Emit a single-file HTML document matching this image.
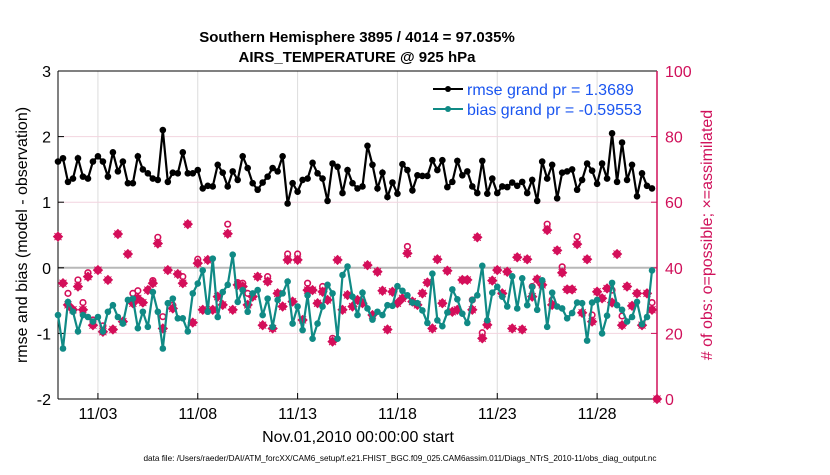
<!DOCTYPE html>
<html><head><meta charset="utf-8"><style>
body{margin:0;background:#fff;width:830px;height:470px;overflow:hidden}
svg{font-family:"Liberation Sans",sans-serif}
</style></head><body>
<svg id="chart" width="830" height="470">
<text x="357" y="42" text-anchor="middle" font-size="15" font-weight="bold">Southern Hemisphere 3895 / 4014 = 97.035%</text>
<text x="357" y="62" text-anchor="middle" font-size="15" font-weight="bold">AIRS_TEMPERATURE @ 925 hPa</text>
<g id="grid"></g>
<g id="axes"></g>
<g id="marks"></g>
<text transform="translate(27,235) rotate(-90)" text-anchor="middle" font-size="16">rmse and bias (model - observation)</text>
<text transform="translate(712,235) rotate(-90)" text-anchor="middle" font-size="16" fill="#d0105a"># of obs: o=possible; ×=assimilated</text>
<text x="358" y="442" text-anchor="middle" font-size="16">Nov.01,2010 00:00:00 start</text>
<text x="400" y="461" text-anchor="middle" font-size="8.2">data file: /Users/raeder/DAI/ATM_forcXX/CAM6_setup/f.e21.FHIST_BGC.f09_025.CAM6assim.011/Diags_NTrS_2010-11/obs_diag_output.nc</text>
<g>
<line x1="433" y1="89" x2="463" y2="89" stroke="#000" stroke-width="2"/><circle cx="448" cy="89" r="3" fill="#000"/>
<text x="467" y="95" font-size="16" fill="#1a55f0">rmse grand pr = 1.3689</text>
<line x1="433" y1="109" x2="463" y2="109" stroke="#108a85" stroke-width="2"/><circle cx="448" cy="109" r="3" fill="#108a85"/>
<text x="467" y="115" font-size="16" fill="#1a55f0">bias grand pr = -0.59553</text>
</g>
</svg>
<script>
const rmse=[1.62,1.67,1.31,1.36,1.67,1.39,1.36,1.62,1.70,1.62,1.39,1.76,1.47,1.62,1.29,1.29,1.70,1.50,1.44,1.36,1.34,2.10,1.31,1.45,1.44,1.76,1.44,1.44,1.49,1.21,
1.25,1.24,1.57,1.45,1.24,1.47,1.34,1.70,1.52,1.29,1.19,1.30,1.39,1.52,1.47,1.70,0.98,1.29,1.16,1.34,1.36,1.60,1.44,1.36,1.02,1.59,1.54,1.14,1.49,1.29,
1.21,1.24,1.86,1.57,1.21,1.45,1.08,1.30,1.13,1.58,1.49,1.18,1.41,1.40,1.40,1.64,1.49,1.64,1.23,1.31,1.63,1.41,1.47,1.24,1.14,1.63,1.13,1.36,1.14,1.24,
1.23,1.30,1.25,1.31,1.14,1.34,1.02,1.62,1.36,1.57,1.06,1.45,1.47,1.50,1.19,1.34,1.59,1.48,1.28,1.59,1.36,2.05,1.31,1.91,1.34,1.57,1.09,1.44,1.25,1.21];
const bias=[-0.72,-1.23,-0.52,-0.67,-0.97,-0.72,-0.75,-0.82,-0.75,-0.97,-0.67,-0.57,-0.75,-0.85,-0.49,-0.47,-0.92,-0.67,-0.90,-0.37,-0.67,-1.23,-0.54,-0.47,-0.77,-0.77,-0.97,-0.39,-0.24,-0.04,
-0.67,0.14,-0.75,-0.37,-0.26,0.20,-0.52,-0.34,-0.67,-0.39,-0.34,-0.72,-0.47,-0.90,-0.49,-0.39,-0.21,-0.85,-0.59,-0.95,-0.42,-1.08,-0.85,-0.59,-0.26,-0.39,-1.08,-0.11,0.02,-0.44,
-0.72,-0.38,-0.62,-0.79,-0.67,-0.72,-0.57,-0.58,-0.28,-0.35,-0.42,-0.53,-0.54,-0.65,-0.84,-0.09,-0.80,-0.89,-0.68,-0.33,-0.48,-0.70,-0.84,-0.49,-0.42,0.03,-0.80,-0.38,-0.29,-0.44,
-0.59,-0.13,-0.62,-0.16,-0.57,-0.29,-0.64,-0.19,-0.90,-0.38,-0.59,-0.62,-0.77,-0.69,-0.53,-0.54,-1.11,-0.53,-0.49,-1.00,-0.73,-0.23,-0.57,-0.64,-0.82,-0.75,-0.52,-0.86,-0.75,-0.04];
const assim=[49.5,35.3,28.7,27.2,34.3,27.2,37.3,22.5,39.3,20.5,36.3,21.2,50.3,23.6,44.2,29.2,30.7,29.4,33.2,35.3,47.4,21.5,39.3,27.6,38.1,35.3,53.3,23.3,41.4,27.2,
42.4,27.2,31.2,28.7,50.4,27.2,34.8,34.3,28.7,31.2,37.3,22.5,35.8,21.5,32.2,28.2,42.4,29.7,42.4,24.1,33.2,33.2,29.2,32.7,30.2,17.5,42.4,27.2,31.7,28.2,
30.2,29.2,40.8,25.6,38.8,33.0,21.2,32.7,29.2,30.7,44.4,29.7,28.7,32.2,35.5,21.5,42.6,29.2,39.1,26.6,27.2,36.3,36.3,27.2,49.3,18.5,22.6,36.1,39.3,32.2,
38.8,21.5,43.2,21.2,42.6,31.2,36.5,34.8,51.5,28.7,45.3,38.5,33.4,33.4,47.2,26.3,42.6,23.6,32.7,30.7,33.7,29.4,44.2,22.5,34.3,28.4,32.2,22.5,32.2,27.2,0];
const possible=[49.5,35.3,32.2,27.2,36.3,29.4,38.5,24.1,39.3,22.3,36.3,21.2,50.3,23.6,44.2,32.2,33.0,29.4,33.2,36.1,49.3,25.1,39.3,28.6,38.1,37.3,53.3,23.3,42.6,27.2,
42.4,27.2,31.2,28.7,53.3,27.2,35.5,35.3,32.2,31.2,37.3,22.5,37.3,21.5,32.2,28.2,44.2,29.7,44.2,24.1,35.3,33.2,29.2,34.3,30.2,18.5,42.4,27.2,31.7,28.2,
30.2,29.2,40.8,25.6,38.8,33.0,21.2,32.7,29.2,30.7,46.5,29.7,28.7,32.2,35.5,21.5,42.6,29.2,39.1,26.6,27.2,36.3,36.3,30.2,49.3,20.2,22.6,36.1,39.3,32.2,
38.8,21.5,43.2,21.2,42.6,34.3,36.5,34.8,53.3,30.2,45.3,40.3,33.4,33.4,49.5,26.3,42.6,25.6,32.7,30.7,33.7,33.2,44.2,25.3,34.3,28.4,32.2,22.5,32.2,29.4,0];
const xTickDays=[2,7,12,17,22,27];
const xTickLabels=["11/03","11/08","11/13","11/18","11/23","11/28"];
const yTicksLeft=[-2,-1,0,1,2,3];
const yTicksRight=[0,20,40,60,80,100];

const L=58,R=657,T=71,B=399,NS="http://www.w3.org/2000/svg";
const xDay=d=>L+d*(R-L)/30;
const xIdx=i=>xDay(i*0.25);
const yL=v=>B-(v+2)*(B-T)/5;
const yR=c=>B-c*(B-T)/100;
function mk(tag,attrs,parent){const e=document.createElementNS(NS,tag);for(const k in attrs)e.setAttribute(k,attrs[k]);parent.appendChild(e);return e;}
const grid=document.getElementById('grid'),axes=document.getElementById('axes'),marks=document.getElementById('marks');
xTickDays.forEach((d,k)=>{
  const gl=mk('line',{x1:xDay(d),x2:xDay(d),y1:T,y2:B,stroke:'#dcdcdc','stroke-width':1},grid);
  
  
  mk('line',{x1:xDay(d),x2:xDay(d),y1:B,y2:B-6,stroke:'#000'},axes);
  const t=mk('text',{x:xDay(d),y:419,'text-anchor':'middle','font-size':16},axes);t.textContent=xTickLabels[k];
  
  
});
yTicksLeft.forEach(v=>{
  if(v>-2&&v<3){const gl=mk('line',{x1:L,x2:R,y1:yL(v),y2:yL(v),stroke:v==0?'#b8b8b8':'#f2d4df','stroke-width':v==0?2:1},grid);
  
  }
  mk('line',{x1:L,x2:L+6,y1:yL(v),y2:yL(v),stroke:'#000'},axes);
  const t=mk('text',{x:51,y:yL(v)+6,'text-anchor':'end','font-size':16},axes);t.textContent=v;
  
  
});
yTicksRight.forEach(c=>{
  mk('line',{x1:R,x2:R-6,y1:yR(c),y2:yR(c),stroke:'#d0105a'},axes);
  const t=mk('text',{x:665,y:yR(c)+6,'font-size':16,fill:'#d0105a'},axes);t.textContent=c;
  
  
});
mk('line',{x1:L,x2:L,y1:T,y2:B,stroke:'#000'},axes);
mk('line',{x1:L,x2:R,y1:B,y2:B,stroke:'#000'},axes);
mk('line',{x1:L,x2:R,y1:T,y2:T,stroke:'#000'},axes);
mk('line',{x1:R,x2:R,y1:T,y2:B,stroke:'#d0105a','stroke-width':1.5},axes);
const MAG='#d40f5a';
assim.forEach((c,i)=>{
  const x=i<assim.length-1?xIdx(i):R, p=possible[i], y=yR(c);
  if(p-c>0.5){const o=mk('circle',{cx:x,cy:yR(p),r:2.8,fill:'none',stroke:MAG,'stroke-width':1.6},marks);
    
    }
  const s=mk('path',{d:`M${x-4.5},${y}L${x},${y-4.5}L${x+4.5},${y}L${x},${y+4.5}Z M${x-3.5},${y-3.5}L${x+3.5},${y+3.5} M${x+3.5},${y-3.5}L${x-3.5},${y+3.5}`,fill:MAG,stroke:MAG,'stroke-width':1},marks);
  
  
});
function series(arr,col,name){
  const pl=mk('polyline',{points:arr.map((v,i)=>xIdx(i)+','+yL(v)).join(' '),fill:'none',stroke:col,'stroke-width':2.2},marks);
  
  
  arr.forEach((v,i)=>{const c=mk('circle',{cx:xIdx(i),cy:yL(v),r:3.3,fill:col},marks);
    
    });
}
series(bias,'#108a85','bias');
series(rmse,'#000','rmse');
</script>
</body></html>
